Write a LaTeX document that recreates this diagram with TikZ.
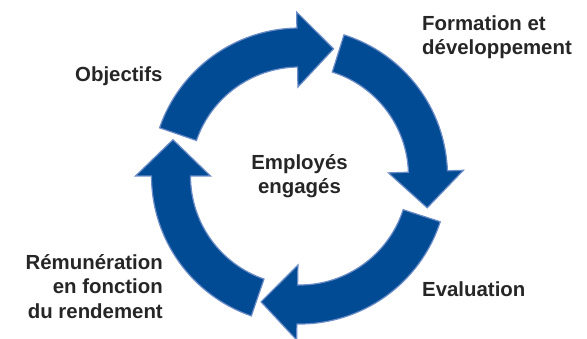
\documentclass[tikz,border=0pt]{standalone}
\usepackage{fontspec}
\setmainfont{Liberation Sans}
\usetikzlibrary{calc}
\definecolor{cycleblue}{HTML}{004B93}
\definecolor{cycleedge}{HTML}{6C8CC8}
\begin{document}
\begin{tikzpicture}[x=1pt,y=1pt]

\tikzset{cyclearrow/.style={fill=cycleblue, draw=cycleedge, line width=1.2pt, line join=miter}}
\tikzset{cyclelabel/.style={font=\fontsize{20.4}{24.5}\selectfont\bfseries, inner sep=0pt, text=black!85}}

\useasboundingbox (0,0) rectangle (587,338);

% centre of the ring
\coordinate (c) at (299.5,162);

% four bent arrows, clockwise
\foreach \tail/\base in {161/91, 72.5/2, -18/-91, -109/-180} {
  \pgfmathsetmacro\tip{\base-16}
  \draw[cyclearrow] ($(c)+(\tail:148)$) arc[start angle=\tail, end angle=\base, radius=148]
    -- ($(c)+(\base:164)$) -- ($(c)+(\tip:131.6)$) -- ($(c)+(\base:89)$) -- ($(c)+(\base:109)$)
    arc[start angle=\base, end angle=\tail, radius=109] -- cycle;
}

% labels
\node[cyclelabel, align=center] at (c) (engaged) {Employés\\engagés};
\node[cyclelabel, anchor=base west] at (75,256) (goals) {Objectifs};
\node[cyclelabel, anchor=base west, align=left] at (422,283) (training) {Formation et\\développement};
\node[cyclelabel, anchor=base west] at (422,42) (review) {Evaluation};
\node[cyclelabel, anchor=base east, align=right] at (163,20) (pay) {Rémunération\\en fonction\\du rendement};

\end{tikzpicture}
\end{document}
